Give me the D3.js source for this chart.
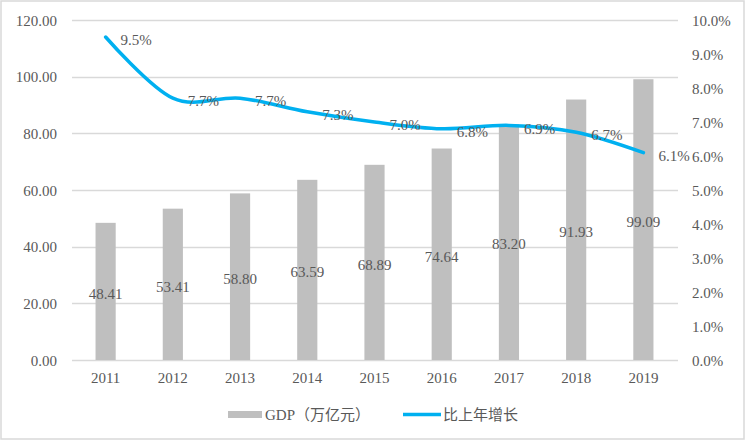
<!DOCTYPE html>
<html>
<head>
<meta charset="utf-8">
<script src="https://cdn.jsdelivr.net/npm/d3@7"></script>
<style>
  body { margin: 0; background: #fff; }
  svg text { font-family: "Liberation Serif", "Times New Roman", "Noto Sans CJK SC", serif; fill: #595959; }
</style>
</head>
<body>
<svg id="chart" width="746" height="441"></svg>
<script>
// data
const years = ['2011', '2012', '2013', '2014', '2015', '2016', '2017', '2018', '2019'];
const gdp = [48.41, 53.41, 58.80, 63.59, 68.89, 74.64, 83.20, 91.93, 99.09];
const growth = [0.095, 0.077, 0.077, 0.073, 0.070, 0.068, 0.069, 0.067, 0.061];
const leftTicks = [0, 20, 40, 60, 80, 100, 120];
const rightTicks = [0, 0.01, 0.02, 0.03, 0.04, 0.05, 0.06, 0.07, 0.08, 0.09, 0.10];
const legendLabels = ['GDP（万亿元）', '比上年增长'];

const svg = d3.select('#chart');
const plotL = 72, plotR = 677, plotT = 20, plotB = 360;
const barColor = '#bfbfbf', lineColor = '#00b0f0', gridColor = '#d9d9d9';

// frame
svg.append('rect')
    .attr('x', 1).attr('y', 1).attr('width', 743).attr('height', 438)
    .attr('fill', 'none').attr('stroke', '#d9d9d9').attr('stroke-width', 1.5);

const x = d3.scaleBand().domain(years).range([plotL, plotR])
    .paddingInner(0.7).paddingOuter(0.35);
const y = d3.scaleLinear().domain([0, 120]).range([plotB, plotT]);
const y2 = d3.scaleLinear().domain([0, 0.10]).range([plotB, plotT]);

// gridlines
svg.append('g').selectAll('line')
    .data(leftTicks)
    .enter().append('line')
    .attr('x1', plotL).attr('x2', plotR + 1)
    .attr('y1', d => Math.round(y(d)) + 0.5).attr('y2', d => Math.round(y(d)) + 0.5)
    .attr('stroke', gridColor).attr('stroke-width', 1.5);

// left axis
const yAxis = svg.append('g')
    .attr('transform', `translate(${plotL - 15},0)`)
    .call(d3.axisLeft(y).tickValues(leftTicks).tickFormat(d3.format('.2f')).tickSize(0).tickPadding(0));
yAxis.select('.domain').remove();
yAxis.selectAll('text').attr('font-size', 15).attr('dy', '0.35em');

// right axis
const y2Axis = svg.append('g')
    .attr('transform', `translate(${plotR + 15},0)`)
    .call(d3.axisRight(y2).tickValues(rightTicks).tickFormat(d3.format('.1%')).tickSize(0).tickPadding(0));
y2Axis.select('.domain').remove();
y2Axis.selectAll('text').attr('font-size', 15).attr('dy', '0.35em');

// x axis
const xAxis = svg.append('g')
    .attr('transform', `translate(0,${plotB + 12})`)
    .call(d3.axisBottom(x).tickSize(0).tickPadding(0));
xAxis.select('.domain').remove();
xAxis.selectAll('text').attr('font-size', 15).attr('dy', '0.71em');

// bars
svg.append('g').selectAll('rect')
    .data(gdp)
    .enter().append('rect')
    .attr('x', (d, i) => x(years[i]))
    .attr('y', d => y(d))
    .attr('width', x.bandwidth())
    .attr('height', d => y(0) - y(d))
    .attr('fill', barColor);

// bar labels
svg.append('g').selectAll('text')
    .data(gdp)
    .enter().append('text')
    .attr('x', (d, i) => x(years[i]) + x.bandwidth() / 2)
    .attr('y', d => (y(d) + y(0)) / 2 + 2)
    .attr('dy', '0.35em')
    .attr('text-anchor', 'middle')
    .attr('font-size', 15)
    .text(d => d3.format('.2f')(d));

// growth line
const line = d3.line()
    .x((d, i) => x(years[i]) + x.bandwidth() / 2)
    .y(d => y2(d))
    .curve(d3.curveCardinal.tension(0));
svg.append('path')
    .datum(growth)
    .attr('d', line)
    .attr('fill', 'none')
    .attr('stroke', lineColor)
    .attr('stroke-width', 3.5)
    .attr('stroke-linecap', 'round');

// line labels
svg.append('g').selectAll('text')
    .data(growth)
    .enter().append('text')
    .attr('x', (d, i) => x(years[i]) + x.bandwidth() / 2 + 15)
    .attr('y', d => y2(d) + 3)
    .attr('dy', '0.35em')
    .attr('font-size', 15)
    .text(d => d3.format('.1%')(d));

// legend
const lg = svg.append('g');
lg.append('rect').attr('x', 228).attr('y', 411).attr('width', 34).attr('height', 7).attr('fill', barColor);
lg.append('text').attr('x', 265).attr('y', 415).attr('dy', '0.35em').attr('font-size', 15).text(legendLabels[0]);
lg.append('line').attr('x1', 403).attr('x2', 441).attr('y1', 414.5).attr('y2', 414.5)
    .attr('stroke', lineColor).attr('stroke-width', 3.5);
lg.append('text').attr('x', 443).attr('y', 415).attr('dy', '0.35em').attr('font-size', 15).text(legendLabels[1]);
</script>
</body>
</html>
